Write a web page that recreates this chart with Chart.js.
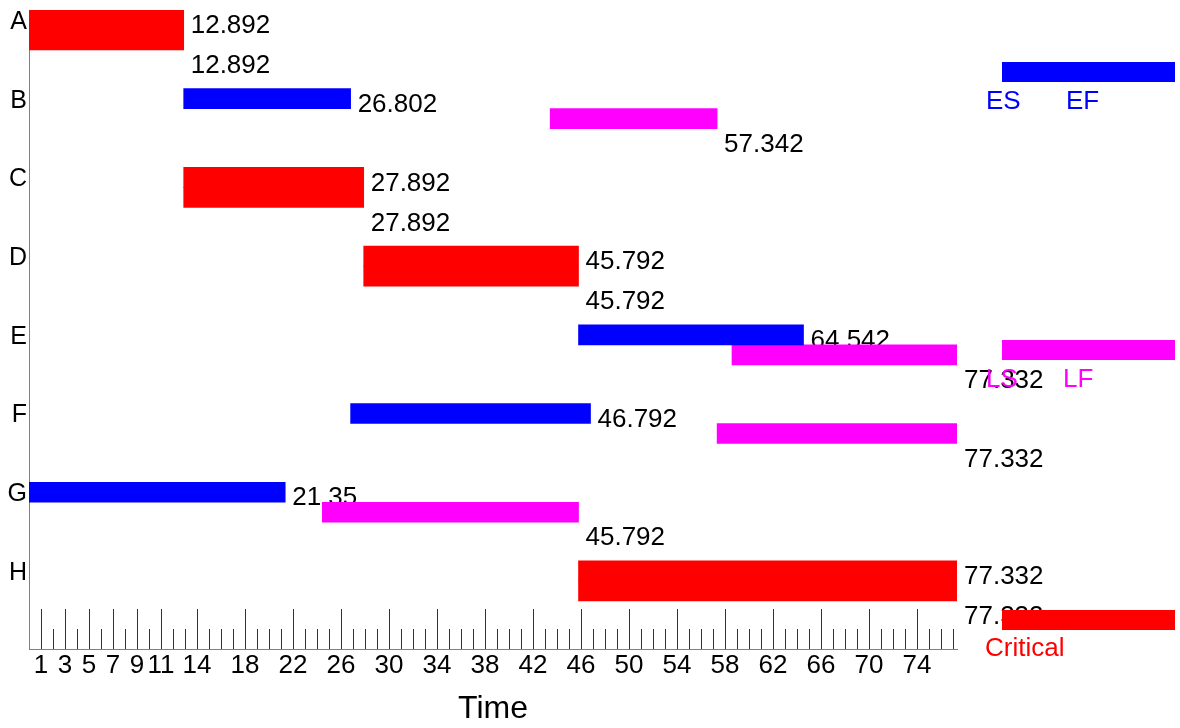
<!DOCTYPE html>
<html>
<head>
<meta charset="utf-8">
<script src="https://cdn.jsdelivr.net/npm/chart.js@4.4.0/dist/chart.umd.min.js"></script>
<style>
  html, body { margin: 0; padding: 0; background: #fff; }
</style>
</head>
<body>
<canvas id="cpm" width="1180" height="728"></canvas>
<script>
const activities = ['A', 'B', 'C', 'D', 'E', 'F', 'G', 'H'];
const earlyStart = [0, 12.892, 12.892, 27.892, 45.792, 26.802, 0, 45.792];
const earlyFinish = [12.892, 26.802, 27.892, 45.792, 64.542, 46.792, 21.35, 77.332];
const lateStart = [0, 43.432, 12.892, 27.892, 58.582, 57.342, 24.442, 45.792];
const lateFinish = [12.892, 57.342, 27.892, 45.792, 77.332, 77.332, 45.792, 77.332];
const critical = [true, false, true, true, false, false, false, true];
const timeTicks = [1, 3, 5, 7, 9, 11, 14, 18, 22, 26, 30, 34, 38, 42, 46, 50, 54, 58, 62, 66, 70, 74];
const projectEnd = 77.332;

const red = '#ff0000', blue = '#0000ff', magenta = '#ff00ff';
const fontFamily = '"Liberation Sans", Arial, sans-serif';
const textFont = '26px ' + fontFamily;

// tick marks + text labels + legend, all drawn straight on the canvas
const cpmPlugin = {
    id: 'cpm',
    beforeDatasetsDraw(chart) {
        const ctx = chart.ctx;
        const xs = chart.scales.x;
        const bars = chart.getDatasetMeta(0).data;
        ctx.save();
        ctx.font = textFont;
        ctx.fillStyle = '#000';
        ctx.textAlign = 'left';
        ctx.textBaseline = 'middle';
        earlyFinish.forEach((v, i) => {
            ctx.fillText(String(v), xs.getPixelForValue(v) + 7, bars[i].y + 6);
        });
        ctx.restore();
    },
    afterDatasetsDraw(chart) {
        const ctx = chart.ctx;
        const xs = chart.scales.x;
        const bars = chart.getDatasetMeta(1).data;
        const area = chart.chartArea;
        ctx.save();
        ctx.font = textFont;
        ctx.fillStyle = '#000';
        ctx.textAlign = 'left';
        ctx.textBaseline = 'middle';
        lateFinish.forEach((v, i) => {
            ctx.fillText(String(v), xs.getPixelForValue(v) + 7, bars[i].y + 26);
        });
        // inner tick marks on the time axis
        ctx.strokeStyle = '#333';
        ctx.lineWidth = 1;
        for (let t = 1; t <= Math.floor(projectEnd); t++) {
            const px = Math.round(xs.getPixelForValue(t)) + 0.5;
            const len = timeTicks.includes(t) ? 40 : 20;
            ctx.beginPath();
            ctx.moveTo(px, area.bottom);
            ctx.lineTo(px, area.bottom - len);
            ctx.stroke();
        }
        ctx.restore();
    },
    afterDraw(chart) {
        const ctx = chart.ctx;
        ctx.save();
        ctx.font = textFont;
        ctx.textAlign = 'left';
        ctx.textBaseline = 'middle';
        ctx.fillStyle = blue;
        ctx.fillRect(1002, 62, 173, 20);
        ctx.fillText('ES', 986, 102);
        ctx.fillText('EF', 1066, 102);
        ctx.fillStyle = magenta;
        ctx.fillRect(1002, 340, 173, 20);
        ctx.fillText('LS', 986, 380);
        ctx.fillText('LF', 1063, 380);
        ctx.fillStyle = red;
        ctx.fillRect(1002, 610, 173, 20);
        ctx.fillText('Critical', 985, 649);
        ctx.restore();
    }
};

new Chart(document.getElementById('cpm'), {
    type: 'bar',
    data: {
        datasets: [
            {
                label: 'ES-EF',
                data: activities.map((a, i) => ({ x: [earlyStart[i], earlyFinish[i]], y: i })),
                backgroundColor: activities.map((a, i) => critical[i] ? red : blue),
                barThickness: 20
            },
            {
                label: 'LS-LF',
                data: activities.map((a, i) => ({ x: [lateStart[i], lateFinish[i]], y: i })),
                backgroundColor: activities.map((a, i) => critical[i] ? red : magenta),
                barThickness: 20
            }
        ]
    },
    options: {
        indexAxis: 'y',
        responsive: false,
        animation: false,
        devicePixelRatio: 1,
        layout: { padding: { top: 10, right: 223, bottom: 0, left: 0 } },
        plugins: { legend: { display: false }, tooltip: { enabled: false } },
        scales: {
            x: {
                type: 'linear',
                position: 'bottom',
                min: 0,
                max: projectEnd,
                afterBuildTicks: s => { s.ticks = timeTicks.map(v => ({ value: v })); },
                afterFit: s => { s.height = 79; s.paddingLeft = 0; s.paddingRight = 0; },
                ticks: {
                    autoSkip: false, maxRotation: 0, padding: 1, color: '#000',
                    font: { family: fontFamily, size: 26 },
                    callback: v => String(v)
                },
                grid: { display: false, drawTicks: false },
                border: { color: '#808080', width: 1 },
                title: {
                    display: true, text: 'Time', color: '#000',
                    font: { family: fontFamily, size: 32 },
                    padding: { top: 4, bottom: 0 }
                }
            },
            y: {
                type: 'linear',
                reverse: true,
                offset: false,
                min: -0.254,
                max: 7.865,
                afterBuildTicks: s => { s.ticks = activities.map((a, i) => ({ value: i })); },
                afterFit: s => { s.width = 29; s.paddingTop = 0; s.paddingBottom = 0; },
                ticks: {
                    autoSkip: false, padding: 2, color: '#000', labelOffset: -8,
                    font: { family: fontFamily, size: 25 },
                    callback: v => activities[v]
                },
                grid: { display: false, drawTicks: false },
                border: { color: '#808080', width: 1 }
            }
        }
    },
    plugins: [cpmPlugin]
});
</script>
</body>
</html>
